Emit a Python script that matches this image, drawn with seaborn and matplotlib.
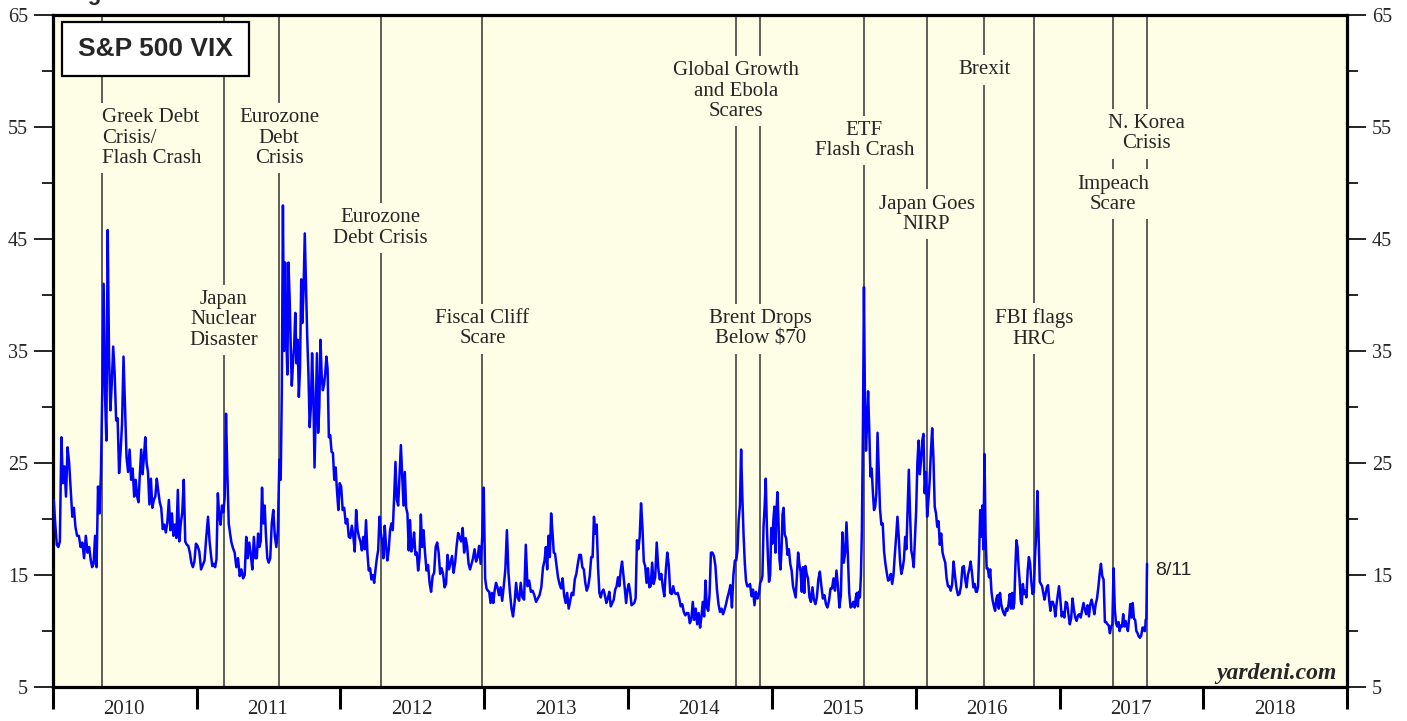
import numpy as np
import pandas as pd
import matplotlib
matplotlib.use("Agg")
import matplotlib.pyplot as plt
import matplotlib.dates as mdates
from matplotlib.ticker import MultipleLocator, NullFormatter
from matplotlib.patches import Rectangle
import seaborn as sns

# ---------------- DATA (monthly sub-lists of VIX readings) ----------------
vix_2010 = [
    [21.7, 19.5, 17.7, 17.5, 18.0, 27.3, 23.2, 24.7],
    [22.0, 26.4, 25.0, 22.6, 20.2, 21.0, 19.3],
    [18.5, 18.5, 17.5, 17.9, 16.5, 18.5, 17.0],
    [17.5, 16.4, 15.7, 16.0, 18.5, 15.7, 22.9, 20.5],
    [24.0, 31.5, 41.0, 31.2, 27.0, 45.8, 34.5, 29.7, 32.1],
    [35.4, 33.0, 28.8, 29.0, 24.1, 26.0, 28.5, 34.5],
    [30.0, 25.5, 24.2, 26.2, 23.5, 24.5, 22.0, 23.5],
    [22.0, 21.5, 24.0, 26.2, 24.0, 25.5, 27.3, 25.0, 24.2],
    [21.3, 23.6, 21.0, 21.7, 22.0, 23.6, 22.5, 21.5],
    [21.0, 19.1, 19.5, 18.8, 19.7, 21.7, 19.0, 20.5],
    [18.5, 19.5, 18.3, 22.6, 18.0, 19.6, 20.6, 23.5],
    [18.0, 17.7, 17.6, 17.0, 16.1, 15.7, 16.2, 17.8],
]
vix_2011 = [
    [17.6, 17.1, 15.5, 15.9, 16.3, 18.4, 20.2],
    [18.0, 16.8, 15.8, 16.0, 15.7, 16.4, 22.3, 20.2],
    [19.5, 21.2, 20.6, 21.9, 29.4, 24.0, 19.6, 18.7, 17.9],
    [17.4, 17.0, 15.7, 16.5, 14.9, 15.5, 14.7],
    [15.0, 18.4, 16.5, 17.9, 16.8, 15.5, 18.4, 16.5],
    [16.5, 18.7, 17.5, 18.0, 22.8, 19.6, 21.2, 18.5, 16.5],
    [16.1, 16.5, 19.6, 20.8, 18.5, 17.5, 19.0, 25.3],
    [23.5, 31.5, 48.0, 35.0, 42.9, 36.4, 32.9, 42.9, 39.9, 35.6, 31.9],
    [33.9, 35.4, 38.4, 33.9, 36.0, 30.9, 33.5, 41.4, 37.5, 40.5],
    [45.5, 40.8, 36.3, 33.0, 28.2, 30.0, 34.8, 31.3, 24.6, 29.9],
    [34.8, 27.7, 30.0, 36.0, 32.8, 31.5, 32.0, 33.0, 34.5, 33.4],
    [27.3, 27.5, 26.0, 25.9, 23.5, 24.6, 22.5, 20.8, 23.2],
]
vix_2012 = [
    [22.9, 20.8, 21.0, 19.6, 20.0, 18.4, 18.3, 19.4],
    [18.5, 17.1, 20.8, 19.0, 18.4, 18.0, 17.2, 18.4],
    [17.3, 19.9, 17.0, 15.4, 15.6, 14.6, 15.0, 14.3, 15.5],
    [16.5, 17.2, 20.2, 18.8, 18.0, 16.5, 19.4, 17.6, 16.3],
    [17.2, 19.0, 19.6, 19.0, 21.9, 25.1, 21.7, 21.2, 24.0],
    [26.6, 23.9, 21.2, 24.2, 21.0, 20.5, 17.2, 19.9, 17.1],
    [17.6, 18.8, 16.8, 17.0, 15.4, 16.5, 20.4, 17.5, 19.0],
    [17.0, 15.4, 15.9, 14.3, 13.5, 14.9, 15.2, 17.5],
    [17.9, 17.0, 15.1, 15.6, 15.1, 13.9, 14.2, 16.8],
    [15.5, 16.1, 16.7, 15.2, 16.1, 17.6, 18.75, 18.3],
    [18.0, 19.2, 17.0, 18.3, 17.6, 16.0, 15.5, 16.0],
    [16.5, 17.3, 16.2, 16.6, 17.6, 16.0, 18.3, 22.8],
]
vix_2013 = [
    [14.7, 13.8, 13.6, 13.5, 12.5, 13.4, 12.5, 13.6, 14.3],
    [13.9, 13.2, 13.9, 12.7, 14.0, 15.5, 19.0],
    [15.2, 13.4, 12.0, 11.3, 12.5, 14.3, 13.0, 12.7],
    [14.3, 13.0, 12.8, 17.7, 14.0, 14.5, 13.5],
    [13.6, 13.2, 12.6, 12.9, 13.2, 13.9, 15.7],
    [16.3, 17.5, 15.5, 18.5, 16.6, 20.5, 18.9, 17.0, 16.9],
    [15.9, 14.8, 14.2, 13.8, 14.7, 13.2, 12.5, 13.4],
    [12.0, 12.7, 13.4, 13.2, 14.6, 15.1, 16.0, 16.8],
    [16.8, 15.7, 15.5, 14.3, 13.6, 14.0, 14.9, 16.6],
    [16.6, 20.2, 18.7, 19.5, 15.7, 13.4, 13.0, 13.5, 13.7],
    [13.2, 12.5, 12.9, 13.5, 12.2, 12.5, 12.8, 13.7],
    [14.0, 14.8, 14.0, 15.4, 16.2, 15.0, 13.8, 12.5, 13.7],
]
vix_2014 = [
    [14.2, 13.4, 12.3, 12.4, 12.5, 12.9, 18.1, 17.3, 18.4],
    [21.4, 19.3, 16.2, 15.8, 14.3, 15.6, 13.9, 14.0],
    [16.1, 14.2, 14.8, 17.9, 15.6, 14.6, 15.1, 13.9],
    [13.1, 15.4, 17.0, 15.9, 13.4, 13.3, 14.0, 13.4],
    [13.3, 13.4, 12.9, 12.2, 12.4, 11.7, 11.4, 11.6],
    [11.6, 10.7, 11.0, 12.6, 11.0, 12.0, 10.6, 11.6],
    [10.3, 11.3, 12.6, 11.3, 14.5, 12.1, 11.8, 13.3, 17.0],
    [17.0, 16.7, 15.8, 13.7, 12.4, 11.7, 12.0, 11.5],
    [11.9, 12.4, 13.0, 13.5, 14.1, 12.1, 15.0, 16.3],
    [16.3, 17.2, 19.9, 21.2, 26.2, 22.0, 18.6, 16.1, 14.5, 14.0],
    [14.0, 14.2, 13.1, 13.7, 12.3, 13.5, 12.9, 13.3],
    [14.3, 14.5, 14.9, 19.3, 21.1, 23.6, 19.4, 16.5, 14.4, 15.0, 19.2],
]
vix_2015 = [
    [17.8, 19.9, 21.1, 17.0, 20.6, 22.4, 19.9, 16.4, 15.5, 17.2, 20.4, 21.0],
    [18.6, 18.3, 16.8, 17.3, 16.0, 15.4, 14.0, 13.5],
    [13.0, 14.9, 17.0, 16.0, 15.3, 13.5, 15.7, 13.4, 15.8, 15.1],
    [14.7, 13.0, 12.6, 13.9, 12.8, 12.4, 13.0, 14.6],
    [15.3, 14.0, 12.9, 13.2, 12.4, 12.1, 12.7, 13.8],
    [13.8, 14.7, 13.6, 15.4, 14.0, 12.1, 13.2, 18.8],
    [16.1, 17.0, 19.7, 16.8, 13.4, 12.1, 12.2, 12.6, 12.1],
    [13.0, 13.4, 12.2, 13.5, 13.0, 14.9, 19.1, 28.0, 40.7, 30.3, 26.1, 28.4],
    [31.4, 27.9, 23.8, 24.5, 22.5, 20.8, 21.1, 22.3, 27.7, 24.5],
    [20.9, 19.5, 19.6, 17.1, 16.0, 15.2, 14.5, 14.6, 15.1],
    [14.2, 15.0, 16.8, 18.4, 20.2, 18.4, 16.2, 15.1, 15.6],
    [16.4, 18.4, 17.3, 20.9, 24.4, 20.5, 17.2, 16.6, 15.7, 18.2],
]
vix_2016 = [
    [20.7, 25.0, 27.0, 24.0, 25.2, 27.0, 27.6, 22.3, 24.2, 20.2],
    [21.6, 23.4, 26.0, 28.1, 25.4, 21.1, 20.5, 19.3, 19.8],
    [17.7, 18.7, 17.0, 16.5, 16.1, 14.7, 14.0, 14.0, 13.6],
    [14.1, 16.2, 14.9, 13.8, 13.2, 13.3, 14.0, 15.7],
    [15.8, 14.6, 13.9, 15.0, 15.5, 16.2, 15.2, 13.9, 14.2],
    [13.5, 13.5, 14.0, 17.0, 20.8, 18.4, 21.2, 17.3, 25.8, 18.5, 15.6],
    [15.6, 14.8, 15.5, 13.5, 12.7, 12.2, 11.8, 12.9, 13.2, 12.0],
    [13.4, 12.4, 11.9, 11.6, 11.4, 12.0, 11.8, 12.4, 13.3, 12.0],
    [13.4, 12.0, 12.5, 15.7, 18.1, 17.5, 15.7, 14.5, 12.7, 12.4, 14.2],
    [13.3, 13.6, 13.0, 15.4, 16.6, 16.0, 14.4, 13.3, 13.5, 16.6],
    [18.6, 22.5, 18.7, 14.4, 14.2, 14.0, 13.4, 12.8, 13.3, 13.9],
    [14.1, 12.7, 11.8, 12.6, 12.6, 12.2, 11.3, 12.4, 13.2, 14.0],
]
vix_2017 = [
    [12.9, 11.3, 11.7, 11.2, 12.6, 12.5, 11.5, 10.6, 11.1],
    [12.9, 11.9, 11.2, 10.9, 11.4, 11.5, 11.2, 11.9],
    [12.5, 11.9, 11.5, 12.3, 11.3, 12.4, 12.8, 12.2, 11.5],
    [12.4, 12.9, 13.9, 15.1, 16.0, 14.9, 14.6, 10.8, 10.8],
    [10.6, 10.5, 9.8, 10.4, 10.6, 15.6, 12.0, 10.7, 10.4, 10.8],
    [10.0, 10.5, 10.4, 11.5, 10.4, 10.9, 10.4, 10.0, 11.1, 12.4],
    [11.2, 12.5, 11.1, 11.0, 10.0, 9.8, 9.5, 9.4, 9.6, 10.3],
    [10.1, 10.3, 10.0, 10.0, 11.0, 11.1, 16.0],
]
last_date = "2017-08-11"
last_label = "8/11"

event_labels = [
    "Greek Debt\nCrisis/\nFlash Crash", "Japan\nNuclear\nDisaster", "Eurozone\nDebt\nCrisis",
    "Eurozone\nDebt Crisis", "Fiscal Cliff\nScare", "Global Growth\nand Ebola\nScares",
    "Brent Drops\nBelow \\$70", "ETF\nFlash Crash", "Japan Goes\nNIRP", "Brexit",
    "FBI flags\nHRC", "Impeach\nScare", "N. Korea\nCrisis",
]
event_dates = [
    "2010-05-06", "2011-03-11", "2011-07-29", "2012-04-12", "2012-12-27", "2014-10-01",
    "2014-12-03", "2015-08-24", "2016-01-29", "2016-06-24", "2016-10-28", "2017-05-17",
    "2017-08-10",
]
year_range = ("2010-01-01", "2019-01-01")
y_range = (5, 65)

# ---------------- layout (positions / styles) ----------------
label_y = [54.0, 37.8, 54.0, 46.0, 37.0, 58.2, 37.0, 53.8, 47.2, 60.1, 37.0, 49.0, 54.4]
label_ha = ["left"] + ["center"] * 12

BG = "#fefee6"
SERIF = ["Liberation Serif", "DejaVu Serif"]
SANS = ["Liberation Sans", "DejaVu Sans"]

# ---------------- build series ----------------
last_ts = pd.Timestamp(last_date)
dates, vals = [], []
for year, months in [(2010, vix_2010), (2011, vix_2011), (2012, vix_2012), (2013, vix_2013),
                     (2014, vix_2014), (2015, vix_2015), (2016, vix_2016), (2017, vix_2017)]:
    for m, mv in enumerate(months, start=1):
        start = pd.Timestamp(year, m, 1)
        stop = start + pd.offsets.MonthBegin(1)
        n = len(mv)
        if stop > last_ts:
            ns = np.linspace(start.value, last_ts.value, n)
        else:
            ns = start.value + (np.arange(n) + 0.5) / n * (stop.value - start.value)
        dates.extend(pd.to_datetime(ns.astype("int64")))
        vals.extend(mv)
df = pd.DataFrame({"date": dates, "vix": vals})

# ---------------- plot ----------------
sns.set_style("ticks")
plt.rcParams["font.family"] = SERIF

W, H = 1407, 721
fig = plt.figure(figsize=(W / 100, H / 100), dpi=100)
ax = fig.add_axes([53 / W, 34 / H, 1294 / W, 672 / H])
ax.set_facecolor(BG)

for d in event_dates:
    ax.axvline(pd.Timestamp(d), color="#333333", lw=1.1, zorder=1)

sns.lineplot(data=df, x="date", y="vix", ax=ax, color="#0000ff", lw=1.8,
             estimator=None, sort=False, zorder=4)

for lab, d, yv, ha in zip(event_labels, event_dates, label_y, label_ha):
    ax.text(pd.Timestamp(d), yv, lab, ha=ha, va="center", fontsize=15, family=SERIF,
            linespacing=1.1, zorder=2,
            bbox=dict(boxstyle="square,pad=0.25", facecolor=BG, edgecolor="none"))

ax.set_xlim(pd.Timestamp(year_range[0]), pd.Timestamp(year_range[1]))
ax.set_ylim(*y_range)
ax.set_xlabel("")
ax.set_ylabel("")

ax.xaxis.set_major_locator(mdates.YearLocator())
ax.xaxis.set_major_formatter(NullFormatter())
ax.xaxis.set_minor_locator(mdates.MonthLocator(bymonth=7))
ax.xaxis.set_minor_formatter(mdates.DateFormatter("%Y"))
ax.tick_params(axis="x", which="major", direction="out", length=16, width=2.2, color="black")
ax.tick_params(axis="x", which="minor", length=0, labelsize=15, pad=9)

ax.yaxis.set_major_locator(MultipleLocator(10))
ax.yaxis.set_minor_locator(MultipleLocator(5))
ax.set_yticks(np.arange(5, 66, 10))
ax.tick_params(axis="y", which="both", left=True, right=True, labelleft=True,
               labelright=True, direction="out", color="black")
ax.tick_params(axis="y", which="major", length=14, width=1.2, labelsize=14.5, pad=4)
ax.tick_params(axis="y", which="minor", length=8, width=1.2)

for sp in ax.spines.values():
    sp.set_visible(True)
    sp.set_linewidth(2.3)
    sp.set_color("black")

# title box
ax.add_patch(Rectangle((9 / 1294, (687 - 76) / 672), 187 / 1294, 54 / 672,
                       transform=ax.transAxes, facecolor="white", edgecolor="black",
                       lw=1.6, zorder=6))
ax.text((155.5 - 53) / 1294, (687 - 48.5) / 672, "S&P 500 VIX", transform=ax.transAxes,
        ha="center", va="center", fontsize=19, fontweight="bold", family=SANS, zorder=7)

# last value label
ax.annotate(last_label, xy=(df["date"].iloc[-1], df["vix"].iloc[-1]), xytext=(8, -7),
            textcoords="offset pixels", ha="left", va="center", fontsize=14, family=SANS)

ax.text((1337 - 53) / 1294, (687 - 679) / 672, "yardeni.com", transform=ax.transAxes,
        ha="right", va="baseline", fontsize=17, fontweight="bold", fontstyle="italic",
        family=SERIF, zorder=5)

# figure caption, clipped at the very top as in the reference
fig.text(68 / W, 1.0, "Figure", ha="left", va="baseline", fontsize=16,
         fontweight="bold", family=SANS)

fig.savefig("out.png", dpi=100, facecolor="white")
